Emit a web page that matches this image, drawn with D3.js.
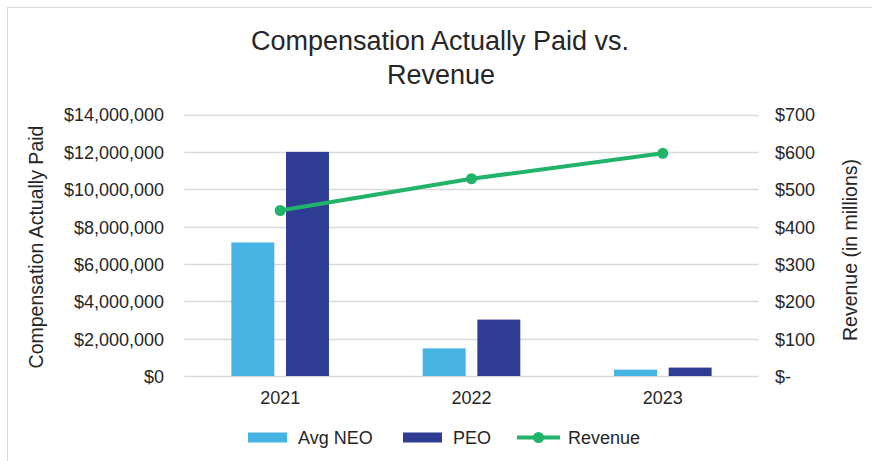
<!DOCTYPE html>
<html>
<head>
<meta charset="utf-8">
<script src="https://cdn.jsdelivr.net/npm/d3@7"></script>
<style>
  body { margin: 0; background: #fff; }
  svg text { font-family: "Liberation Sans", Arial, sans-serif; fill: #262626; }
</style>
</head>
<body>
<svg id="chart" width="872" height="461"></svg>
<script>
// data
var years = ["2021", "2022", "2023"];
var avgNeo = [7150000, 1480000, 340000];
var peo = [12000000, 3020000, 450000];
var revenue = [443, 528, 596];
var leftTicks = [0, 2000000, 4000000, 6000000, 8000000, 10000000, 12000000, 14000000];
var rightTicks = [0, 100, 200, 300, 400, 500, 600, 700];
var seriesNames = ["Avg NEO", "PEO"];

var colors = { "Avg NEO": "#46b3e2", "PEO": "#2f3c93", "Revenue": "#22b36b" };

var svg = d3.select("#chart");

// light frame round the chart
svg.append("rect")
    .attr("x", 7.5).attr("y", 7.5)
    .attr("width", 880).attr("height", 470)
    .attr("fill", "none")
    .attr("stroke", "#d9d9d9");

var x = d3.scaleBand().domain(years).range([184.5, 758.5]);
var yL = d3.scaleLinear().domain([0, 14000000]).range([376, 114.5]);
var yR = d3.scaleLinear().domain([0, 700]).range([376, 114.5]);

// title
svg.append("text")
    .attr("x", 440).attr("y", 49.5)
    .attr("text-anchor", "middle")
    .style("font-size", "27px")
    .text("Compensation Actually Paid vs.");
svg.append("text")
    .attr("x", 441).attr("y", 84)
    .attr("text-anchor", "middle")
    .style("font-size", "27px")
    .text("Revenue");

// gridlines
svg.append("g").selectAll("line").data(leftTicks).enter().append("line")
    .attr("x1", 184.5).attr("x2", 758.5)
    .attr("y1", function (d) { return Math.round(yL(d)) + 0.5; })
    .attr("y2", function (d) { return Math.round(yL(d)) + 0.5; })
    .attr("stroke", "#d9d9d9")
    .attr("stroke-width", 1.3);

// left axis
var leftAxis = svg.append("g")
    .attr("transform", "translate(172,0)")
    .call(d3.axisLeft(yL).tickValues(leftTicks).tickSize(0)
        .tickFormat(function (d) { return "$" + d3.format(",")(d); }));
leftAxis.select(".domain").remove();
leftAxis.selectAll("text")
    .attr("x", -8).attr("dy", "0.36em")
    .style("font-size", "18px")
    .style("font-family", "'Liberation Sans', Arial, sans-serif")
    .attr("fill", "#262626");

// right axis
var rightAxis = svg.append("g")
    .attr("transform", "translate(767,0)")
    .call(d3.axisRight(yR).tickValues(rightTicks).tickSize(0)
        .tickFormat(function (d) { return d === 0 ? "$-" : "$" + d; }));
rightAxis.select(".domain").remove();
rightAxis.selectAll("text")
    .attr("x", 8).attr("dy", "0.36em")
    .style("font-size", "18px")
    .style("font-family", "'Liberation Sans', Arial, sans-serif")
    .attr("fill", "#262626");

// x axis labels
var bottomAxis = svg.append("g")
    .attr("transform", "translate(0,376)")
    .call(d3.axisBottom(x).tickSize(0));
bottomAxis.select(".domain").remove();
bottomAxis.selectAll("text")
    .attr("y", 28).attr("dy", 0)
    .style("font-size", "18px")
    .style("font-family", "'Liberation Sans', Arial, sans-serif")
    .attr("fill", "#262626");

// axis titles
svg.append("text")
    .attr("transform", "translate(43,247) rotate(-90)")
    .attr("text-anchor", "middle")
    .style("font-size", "19.5px")
    .text("Compensation Actually Paid");
svg.append("text")
    .attr("transform", "translate(857,250) rotate(-90)")
    .attr("text-anchor", "middle")
    .style("font-size", "19.5px")
    .text("Revenue (in millions)");

// bars
var inner = d3.scaleBand().domain(seriesNames).range([-48.8, 48.8]).paddingInner(0.214);
var groups = svg.append("g").selectAll("g").data(years).enter().append("g")
    .attr("transform", function (d) { return "translate(" + (x(d) + x.bandwidth() / 2) + ",0)"; });

groups.selectAll("rect")
    .data(function (d, i) {
        return [{ s: "Avg NEO", v: avgNeo[i] }, { s: "PEO", v: peo[i] }];
    })
    .enter().append("rect")
    .attr("x", function (d) { return inner(d.s); })
    .attr("width", inner.bandwidth())
    .attr("y", function (d) { return yL(d.v); })
    .attr("height", function (d) { return yL(0) - yL(d.v); })
    .attr("fill", function (d) { return colors[d.s]; });

// revenue line
var line = d3.line()
    .x(function (d, i) { return x(years[i]) + x.bandwidth() / 2; })
    .y(function (d) { return yR(d); });

svg.append("path")
    .datum(revenue)
    .attr("d", line)
    .attr("fill", "none")
    .attr("stroke", colors.Revenue)
    .attr("stroke-width", 4);

svg.append("g").selectAll("circle").data(revenue).enter().append("circle")
    .attr("cx", function (d, i) { return x(years[i]) + x.bandwidth() / 2; })
    .attr("cy", function (d) { return yR(d); })
    .attr("r", 5.5)
    .attr("fill", colors.Revenue);

// legend
var legend = svg.append("g");
var legendItems = [
    { name: "Avg NEO", x: 248, kind: "rect" },
    { name: "PEO", x: 403, kind: "rect" },
    { name: "Revenue", x: 517, kind: "line" }
];
legendItems.forEach(function (it) {
    if (it.kind === "rect") {
        legend.append("rect")
            .attr("x", it.x).attr("y", 432.5)
            .attr("width", 39).attr("height", 10)
            .attr("fill", colors[it.name]);
    } else {
        legend.append("line")
            .attr("x1", it.x).attr("x2", it.x + 43)
            .attr("y1", 437.5).attr("y2", 437.5)
            .attr("stroke", colors.Revenue)
            .attr("stroke-width", 4);
        legend.append("circle")
            .attr("cx", it.x + 21.5).attr("cy", 437.5)
            .attr("r", 5.5)
            .attr("fill", colors.Revenue);
    }
    legend.append("text")
        .attr("x", it.x + (it.kind === "rect" ? 50 : 51))
        .attr("y", 443.5)
        .style("font-size", "18px")
        .text(it.name);
});
</script>
</body>
</html>
